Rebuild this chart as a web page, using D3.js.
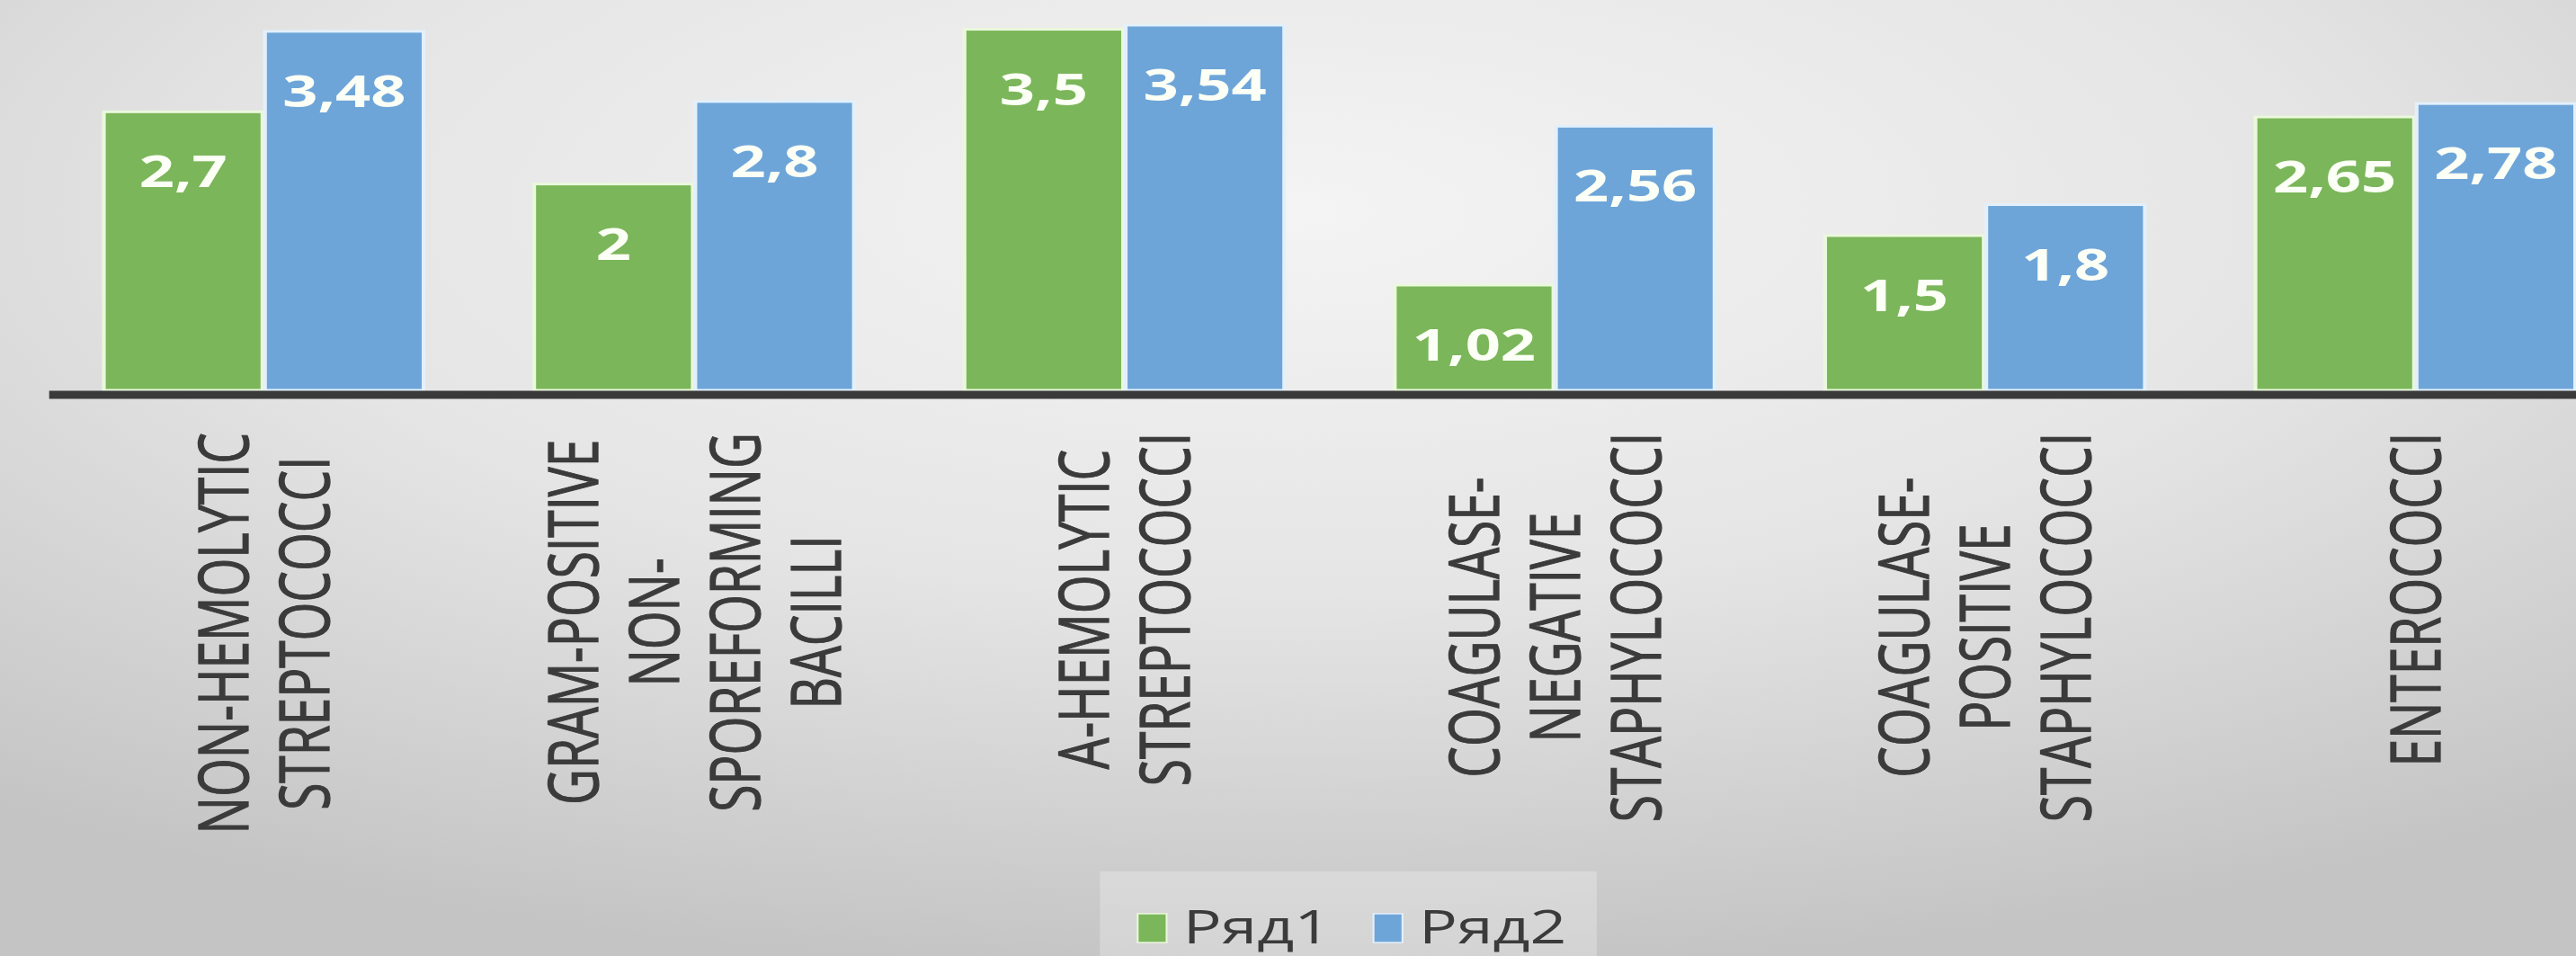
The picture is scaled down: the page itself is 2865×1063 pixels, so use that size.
<!DOCTYPE html>
<html>
<head>
<meta charset="utf-8">
<script src="https://cdn.jsdelivr.net/npm/d3@7"></script>
<style>
    html, body { margin: 0; padding: 0; overflow: hidden; }
    svg { display: block; }
</style>
</head>
<body>
<div id="chart"></div>
<script>
// ========================
// Data
// ========================
const categories = [
    "NON-HEMOLYTIC STREPTOCOCCI",
    "GRAM-POSITIVE NON-SPOREFORMING BACILLI",
    "A-HEMOLYTIC STREPTOCOCCI",
    "COAGULASE-NEGATIVE STAPHYLOCOCCI",
    "COAGULASE-POSITIVE STAPHYLOCOCCI",
    "ENTEROCOCCI"
];
// tick labels, broken into lines the way the picture wraps them
const categoryLines = [
    ["NON-HEMOLYTIC", "STREPTOCOCCI"],
    ["GRAM-POSITIVE", "NON-", "SPOREFORMING", "BACILLI"],
    ["A-HEMOLYTIC", "STREPTOCOCCI"],
    ["COAGULASE-", "NEGATIVE", "STAPHYLOCOCCI"],
    ["COAGULASE-", "POSITIVE", "STAPHYLOCOCCI"],
    ["ENTEROCOCCI"]
];
const seriesNames = ["Ряд1", "Ряд2"];
const series1 = [2.7, 2, 3.5, 1.02, 1.5, 2.65];
const series2 = [3.48, 2.8, 3.54, 2.56, 1.8, 2.78];
const seriesColors = ["#7bb65a", "#6ea5d9"];
const seriesStroke = ["#eaf8dc", "#e3f0fb"];

// ========================
// Setup
// ========================
const width = 2865;
const height = 1063;
const stretch = 1.4;              // the picture is drawn wider than tall

const rows = categories.map((c, i) => ({
    category: c,
    lines: categoryLines[i],
    values: [series1[i], series2[i]]
}));

const x0 = d3.scaleBand()
    .domain(categories)
    .range([54 / stretch, (54 + 6 * 478.6) / stretch])
    .paddingInner(0.257)
    .paddingOuter(0.1285);

const x1 = d3.scaleBand()
    .domain(seriesNames)
    .range([0, x0.bandwidth()])
    .paddingInner(0.016);

const y = d3.scaleLinear()
    .domain([0, 3.8])
    .range([434, 434 - 3.8 * 114.7]);

const svg = d3.select("#chart").append("svg")
    .attr("width", width)
    .attr("height", height);

// Background
const defs = svg.append("defs");
const bg = defs.append("radialGradient")
    .attr("id", "bg")
    .attr("cx", "50%").attr("cy", "22%")
    .attr("r", "80%");
bg.append("stop").attr("offset", "0%").attr("stop-color", "#f4f4f4");
bg.append("stop").attr("offset", "50%").attr("stop-color", "#e5e5e5");
bg.append("stop").attr("offset", "100%").attr("stop-color", "#c4c4c4");

svg.append("rect")
    .attr("width", width)
    .attr("height", height)
    .attr("fill", "url(#bg)");

const g = svg.append("g")
    .attr("transform", `scale(${stretch},1)`);

// ========================
// Bars
// ========================
const groups = g.selectAll(".group")
    .data(rows)
    .join("g")
    .attr("class", "group")
    .attr("transform", d => `translate(${x0(d.category)},0)`);

groups.selectAll("rect")
    .data(d => d.values.map((v, i) => ({ name: seriesNames[i], value: v, i })))
    .join("rect")
    .attr("x", d => x1(d.name))
    .attr("y", d => y(d.value))
    .attr("width", x1.bandwidth())
    .attr("height", d => y(0) - y(d.value))
    .attr("fill", d => seriesColors[d.i])
    .attr("stroke", d => seriesStroke[d.i])
    .attr("stroke-width", 3);

// Data labels (inside end)
groups.selectAll(".value")
    .data(d => d.values.map((v, i) => ({ name: seriesNames[i], value: v })))
    .join("text")
    .attr("class", "value")
    .attr("x", d => x1(d.name) + x1.bandwidth() / 2)
    .attr("y", d => y(d.value) + 84)
    .attr("text-anchor", "middle")
    .style("font-family", "'Open Sans', 'Noto Sans', sans-serif")
    .style("font-weight", "bold")
    .style("font-size", "49px")
    .style("fill", "#fbfff5")
    .text(d => String(d.value).replace(".", ","));

// ========================
// Axis
// ========================
const xAxis = g.append("g")
    .attr("transform", `translate(0,${y(0) + 4.5})`)
    .call(d3.axisBottom(x0).tickSize(0).tickFormat(""));

xAxis.select(".domain")
    .attr("stroke", "#3a3a3a")
    .attr("stroke-width", 9);

// Category labels, rotated, lines centred in a block that hangs from the axis
const labelTop = 481;
const lineStep = 90 / stretch;

groups.each(function (d) {
    const cx = x0.bandwidth() / 2;
    const label = d3.select(this).append("g");
    const texts = label.selectAll("text")
        .data(d.lines)
        .join("text")
        .attr("text-anchor", "middle")
        .attr("dy", "0.36em")
        .style("font-family", "'Open Sans', 'Noto Sans', sans-serif")
        .style("font-size", "55px")
        .style("fill", "#3b3b3b")
        .style("stroke", "#3b3b3b")
        .style("stroke-width", 0.9)
        .text(t => t);

    let maxLen = 0;
    texts.each(function () { maxLen = Math.max(maxLen, this.getComputedTextLength()); });
    const yc = labelTop + maxLen / 2;
    const n = d.lines.length;
    texts.attr("transform", (t, i) =>
        `translate(${cx + (i - (n - 1) / 2) * lineStep},${yc}) rotate(-90)`);
});

// ========================
// Legend
// ========================
const legend = g.append("g");
const legendBox = legend.append("rect")
    .attr("fill", "#ffffff")
    .attr("fill-opacity", 0.25);

const items = legend.selectAll(".item")
    .data(seriesNames)
    .join("g")
    .attr("class", "item");

items.append("rect")
    .attr("y", 1016)
    .attr("width", 23)
    .attr("height", 32)
    .attr("fill", (d, i) => seriesColors[i])
    .attr("stroke", (d, i) => seriesStroke[i])
    .attr("stroke-width", 1.5);

items.append("text")
    .attr("x", 36)
    .attr("y", 1049)
    .style("font-family", "'Open Sans', 'Noto Sans', sans-serif")
    .style("font-size", "51px")
    .style("fill", "#3b3b3b")
    .text(d => d);

let offset = 0;
const itemX = [];
items.each(function () {
    itemX.push(offset);
    offset += this.getBBox().width + 34;
});
const legendW = offset - 34;
const legendX = (x0.range()[0] + x0.range()[1]) / 2 + 10 - legendW / 2;
items.attr("transform", (d, i) => `translate(${legendX + itemX[i]},0)`);

legendBox
    .attr("x", legendX - 30)
    .attr("y", 969)
    .attr("width", legendW + 54)
    .attr("height", 110);
</script>
</body>
</html>
